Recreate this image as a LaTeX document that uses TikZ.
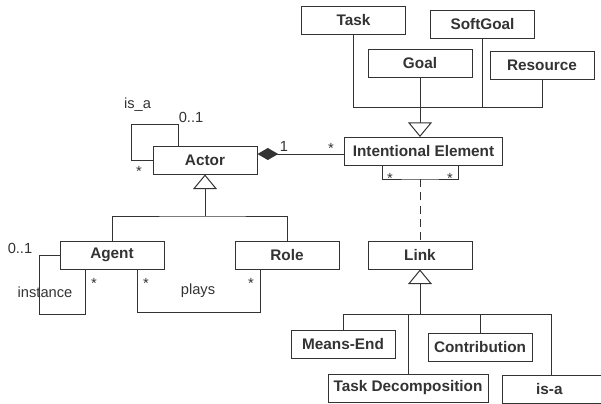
\documentclass[tikz,border=0pt]{standalone}
\usepackage{fontspec}
\setmainfont{Liberation Sans}
\usetikzlibrary{arrows.meta,calc,positioning}
\definecolor{umlgray}{RGB}{51,51,51}

\begin{document}
\begin{tikzpicture}[x=0.75pt,y=-0.75pt,font=\fontsize{11}{13}\selectfont,
    line width=0.75pt,draw=umlgray,text=umlgray,
    cls/.style={draw=umlgray,fill=white,font=\fontsize{11.5}{13}\selectfont\bfseries,minimum width=78pt,minimum height=21pt,inner sep=1pt},
    mult/.style={inner sep=0pt},
    gen/.style={-{Triangle[open,length=11pt,width=18pt,fill=white]}},
    comp/.style={{Diamond[length=15.5pt,width=9pt]}-}]
  \useasboundingbox (0,0) rectangle (601,404);
  \node[cls] (task) at (353.5,20.5) {Task};
  \node[cls] (softgoal) at (482.5,24) {SoftGoal};
  \node[cls] (goal) at (420,63.5) {Goal};
  \node[cls] (resource) at (542,65.5) {Resource};
  \node[cls,minimum width=119pt] (ie) at (423.5,151.5) {Intentional Element};
  \node[cls] (actor) at (205,160) {Actor};
  \node[cls] (agent) at (112,255) {Agent};
  \node[cls] (role) at (287,255) {Role};
  \node[cls] (link) at (420,255) {Link};
  \node[cls] (meansend) at (343,344.5) {Means-End};
  \node[cls] (contrib) at (480,347) {Contribution};
  \node[cls,minimum width=120pt] (taskdec) at (408,388) {Task Decomposition};
  \node[cls,minimum width=87pt] (isa) at (560,389.5) {\hspace*{-16pt}is-a};
  % intentional element hierarchy
  \coordinate (iejoin) at (420,107);
  \draw (task.south) |- (iejoin) (softgoal.south) |- (iejoin) (resource.south) |- (iejoin);
  \draw[gen] (goal.south) -- (iejoin |- ie.north);
  % actor
  \draw ($(actor.north west)+(26,0)$) |- ++(-47,-21) |- (actor.west);
  \node[mult] (isal) at (137.5,105) {is\_a};
  \node[mult] (m1) at (191,117) {0..1};
  \node[mult] (m2) at (139,171) {*};
  \draw[comp] ($(actor.east)+(0,-6)$) -- ($(ie.west)+(0,2.5)$);
  \node[mult] (m3) at (284,146) {1};
  \node[mult] (m4) at (331,148) {*};
  \coordinate (actjoin) at (205,216);
  \draw (agent.north) |- (actjoin) -| (role.north);
  \draw[gen] (actjoin) -- (actor.south);
  \draw (agent.west) -| ++(-20,59) -| ($(agent.south west)+(26,0)$);
  \node[mult] (m5) at (20,248) {0..1};
  \node[mult] (inst) at (45,292) {instance};
  \node[mult] (m6) at (94,283) {*};
  \draw ($(agent.south west)+(78,0)$) |- ++(123,43) -- ($(role.south west)+(26,0)$);
  \node[mult] (m7) at (146,283) {*};
  \node[mult] (m8) at (251,283) {*};
  \node[mult] (plays) at (198,291) {plays};
  % link
  \coordinate (ielink) at (420,179);
  \draw ($(ie.south west)+(39,0)$) |- (ielink) -| ($(ie.south east)+(-45,0)$);
  \draw[dashed,dash pattern=on 6pt off 4pt] (ielink) -- (link.north);
  \node[mult] (m9) at (390,178) {*};
  \node[mult] (m10) at (450,178) {*};
  \coordinate (linkjoin) at (420,314);
  \draw (meansend.north) |- (linkjoin) (taskdec.north) |- (linkjoin)
        (contrib.north) |- (linkjoin) ($(isa.north west)+(50,0)$) |- (linkjoin);
  \draw[gen] (linkjoin) -- (link.south);
\end{tikzpicture}
\end{document}
